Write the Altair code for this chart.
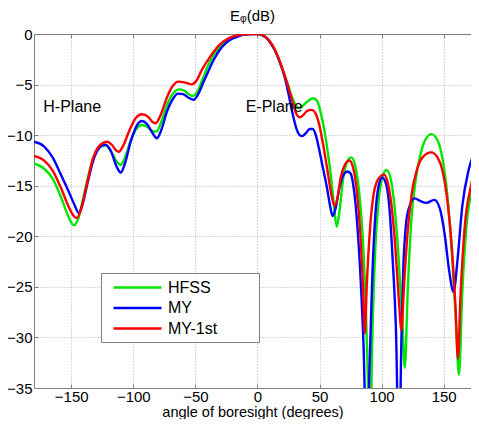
import altair as alt
import pandas as pd

series_names = ["HFSS", "MY", "MY-1st"]
series_colors = ["#00e600", "#0000ff", "#ff0000"]

hfss_angle = [-180, -172, -165, -158, -152.5, -148, -144.5, -141, -136, -131, -126, -122.5, -118, -113.5,
              -110.3, -107, -102, -97, -93, -88.5, -84.5, -81.5, -77.5, -72.5, -67.5, -63.5, -59, -55.5,
              -52, -48, -44, -40, -35, -30, -25, -20, -15, -10, -5, 0,
              4, 8, 12, 16, 20, 24, 28, 31, 33, 36, 40, 45, 48, 51, 54, 57, 59.5, 61.5, 63.8, 66, 69, 72,
              75.5, 78.5, 81.5, 84.5, 87, 89, 90.5, 92.5, 95, 97.5, 100.5, 104, 107.5, 110.5, 113.5, 116.5,
              118.7, 121, 124, 127.5, 131.5, 135.5, 140, 145, 149, 153, 156.5, 159.5, 162.3, 165, 168.5,
              173.5, 180]
hfss_db = [-12.8, -13.3, -14.3, -16.2, -18.0, -18.9, -18.3, -16.6, -13.9, -11.9, -11.05, -11.0, -11.6, -12.6,
           -12.95, -12.3, -10.5, -9.3, -9.0, -9.2, -9.6, -9.65, -8.7, -6.9, -5.8, -5.47, -5.6, -5.95,
           -6.13, -5.6, -4.4, -3.2, -2.0, -1.2, -0.65, -0.3, -0.12, -0.03, 0, 0,
           -0.1, -0.45, -1.1, -2.1, -3.4, -4.8, -6.3, -7.1, -7.35, -7.15, -6.7, -6.35, -6.6, -7.8, -9.6,
           -12.0, -14.4, -16.8, -19.05, -17.6, -14.3, -12.7,
           -12.2, -12.9, -15.2, -19.5, -26, -34, -42, -30, -21, -16.6, -14.2, -13.45, -14.4, -17.2, -21.8,
           -27.8, -33.0, -25.5, -18.3, -14.4, -11.8, -10.4, -9.9, -10.5, -12.3, -16.0, -21.5, -27.5, -33.7,
           -25.5, -18.8, -15.2, -13.0]

my_angle = [-180, -172, -165, -158, -152, -147, -144, -141, -137, -132, -127, -122.5, -118, -113.5, -110,
            -107, -102, -97, -93, -89, -84.5, -81, -77.5, -73, -68, -64, -60, -55.5, -51.5, -48, -44, -40,
            -35, -30, -25, -20, -15, -10, -5, 0,
            4, 8, 11, 14, 18, 22, 25, 28, 31, 34, 36, 39, 42, 44.5, 47, 50, 53, 56, 58.5, 60.5, 63, 66, 69,
            72.5, 75, 77.5, 80, 83, 85.5, 88, 90.5, 92.5, 95, 98, 100.5, 103, 106, 109, 111.5, 114, 116,
            117.5, 119.5, 122, 126.5, 131, 136, 142.5, 147, 151, 154.5, 158, 161, 165, 170, 175, 180]
my_db = [-10.65, -11.1, -12.2, -14.0, -15.6, -17.0, -17.7, -16.9, -14.8, -12.4, -11.2, -10.95, -11.6, -13.1,
         -13.7, -12.9, -10.6, -9.0, -8.6, -8.9, -9.8, -10.3, -9.5, -7.7, -6.4, -5.9, -5.95, -6.3, -6.5, -6.0,
         -4.9, -3.8, -2.5, -1.5, -0.85, -0.45, -0.2, -0.06, -0.01, 0,
         -0.15, -0.5, -1.0, -1.6, -2.8, -4.3, -5.9, -7.7, -9.2, -10.0, -10.1, -9.8, -9.4, -9.4, -10.0, -11.6,
         -13.4, -15.2, -17.0, -18.0, -17.2, -15.2, -14.0,
         -13.6, -13.8, -15.2, -18.2, -24, -31, -42, -32, -24, -17.8, -14.8, -14.2, -14.6, -16.8, -22.5, -29,
         -42, -30, -23, -19, -17.2, -16.25, -16.5, -16.7, -16.4, -17.3, -20.0, -23.5, -25.5, -22.5, -17.0,
         -13.5, -11.6, -10.5]

my1_angle = [-180, -172, -165, -158, -152, -148, -145.5, -142, -137.5, -132.5, -127, -121, -117, -114,
             -111.7, -108, -103, -98, -93, -88, -84.5, -82, -78, -73, -68, -63.5, -58, -53, -49, -45, -40,
             -35, -30, -25, -20, -15, -10, -5, 0,
             4, 8, 12, 16, 20, 24, 28, 31, 34.3, 37, 40, 43.7, 47, 50, 53, 56, 59, 62, 64.5, 67, 70.5, 74,
             77, 80, 83, 85, 86.5, 88, 90.5, 93, 97, 101.8, 105, 108, 111, 114, 116, 118, 121, 124, 128,
             133, 140, 145, 149, 153, 156.5, 159.5, 161.5, 163.5, 167, 172, 176, 180]
my1_db = [-12.06, -12.5, -13.5, -15.3, -17.1, -18.0, -18.2, -17.3, -14.9, -12.3, -11.0, -10.65, -11.0, -11.5,
          -11.64, -11.0, -9.5, -8.3, -7.94, -8.2, -8.7, -8.83, -8.0, -6.3, -5.1, -4.71, -4.8, -4.98, -4.6,
          -3.6, -2.6, -1.7, -1.0, -0.55, -0.25, -0.1, -0.02, 0, 0,
          -0.1, -0.45, -1.1, -2.1, -3.4, -4.9, -6.6, -7.8, -8.24, -8.0, -7.6, -7.5, -7.9, -9.1, -11.0, -13.2,
          -15.5, -17.0, -16.2, -14.2, -12.9, -12.5,
          -13.2, -15.5, -20, -25, -29.6, -25, -19.5, -16.3, -14.4, -13.9, -14.7, -17, -21, -26.5, -29.3, -25,
          -19.5, -16.0, -13.6, -12.2, -11.7, -12.2, -13.5, -16.5, -21, -27, -32.1, -26, -19, -15, -13, -12.0]

x_ticks = [-150, -100, -50, 0, 50, 100, 150]
y_ticks = [-35, -30, -25, -20, -15, -10, -5, 0]

plane_labels = ["H-Plane", "E-Plane"]
plane_angle = [-172.5, -9.5]
plane_db = [-7.2, -7.2]

rows = []
for name, ang, val in [("HFSS", hfss_angle, hfss_db), ("MY", my_angle, my_db), ("MY-1st", my1_angle, my1_db)]:
    for a, v in zip(ang, val):
        rows.append({"series": name, "angle": a, "db": v})
df = pd.DataFrame(rows)
ann = pd.DataFrame({"label": plane_labels, "angle": plane_angle, "db": plane_db})

FONT = "Liberation Sans"
GREY = "#808080"
xscale = alt.Scale(domain=[-180, 172], nice=False, zero=False)
yscale = alt.Scale(domain=[-35, 0], nice=False, zero=False)

pad = "\u2800" * 3

lines = alt.Chart(df).mark_line(clip=True, strokeWidth=2.4, interpolate="monotone").encode(
    x=alt.X("angle:Q", scale=xscale, axis=alt.Axis(
        orient="bottom", values=x_ticks, grid=True, gridDash=[1, 2], gridColor="#b0b0b0",
        ticks=False, domainColor=GREY, labelFontSize=15, labelPadding=1, labelColor="black",
        title="angle of boresight (degrees)", titleFontSize=14.5, titleFontWeight="normal",
        titleBaseline="alphabetic", titleY=28.5, titleColor="black", labelFont=FONT, titleFont=FONT)),
    y=alt.Y("db:Q", scale=yscale, axis=alt.Axis(
        orient="left", values=y_ticks, grid=True, gridDash=[1, 2], gridColor="#b0b0b0",
        ticks=False, domainColor=GREY, labelFontSize=15, labelPadding=2, labelColor="black",
        title=None, labelFont=FONT)),
    color=alt.Color("series:N", scale=alt.Scale(domain=series_names, range=series_colors),
                    legend=alt.Legend(
                        title=None, orient="none", legendX=67, legendY=239,
                        symbolType="M-0.25,0H5.75", symbolSize=256, symbolStrokeWidth=2.4,
                        labelFontSize=16, labelOffset=43, labelFont=FONT, labelColor="black",
                        labelExpr="datum.label + '" + pad + "'", labelLimit=0,
                        padding=5, rowPadding=2.5, strokeColor=GREY, fillColor="white")),
)

tick_kw = dict(labels=False, domain=False, grid=False, ticks=True, tickSize=4, tickColor=GREY, title=None)

inv = alt.Chart(df).mark_line(strokeOpacity=0, clip=True)
layer2 = inv.encode(
    x=alt.X("angle:Q", scale=xscale, axis=alt.Axis(orient="top", labels=False, ticks=False, grid=False,
                                                  domain=True, domainColor=GREY, title=None, values=x_ticks)),
    y=alt.Y("db:Q", scale=yscale, axis=alt.Axis(orient="left", offset=-4, values=y_ticks, **tick_kw)),
)
layer3 = inv.encode(
    x=alt.X("angle:Q", scale=xscale, axis=alt.Axis(orient="bottom", offset=-4, values=x_ticks, **tick_kw)),
    y=alt.Y("db:Q", scale=yscale, axis=None),
)
layer4 = inv.encode(
    x=alt.X("angle:Q", scale=xscale, axis=alt.Axis(orient="top", offset=-4, values=x_ticks, **tick_kw)),
    y=alt.Y("db:Q", scale=yscale, axis=None),
)

text = alt.Chart(ann).mark_text(align="left", baseline="middle", fontSize=16, font=FONT, color="black").encode(
    x=alt.X("angle:Q", scale=xscale, axis=None),
    y=alt.Y("db:Q", scale=yscale, axis=None),
    text="label:N",
)

chart = alt.layer(lines, layer2, layer3, layer4, text).resolve_axis(
    x="independent", y="independent"
).properties(
    width=437, height=354,
    title=alt.Title("E\u1d69(dB)", fontSize=15, fontWeight="normal", font=FONT, color="black", offset=3),
    autosize=alt.AutoSizeParams(type="none"),
    padding={"left": 26, "top": 26, "right": 0, "bottom": 31},
).configure_view(stroke=None)

chart.save("out.html", embed_options={"renderer": "svg", "actions": False})
